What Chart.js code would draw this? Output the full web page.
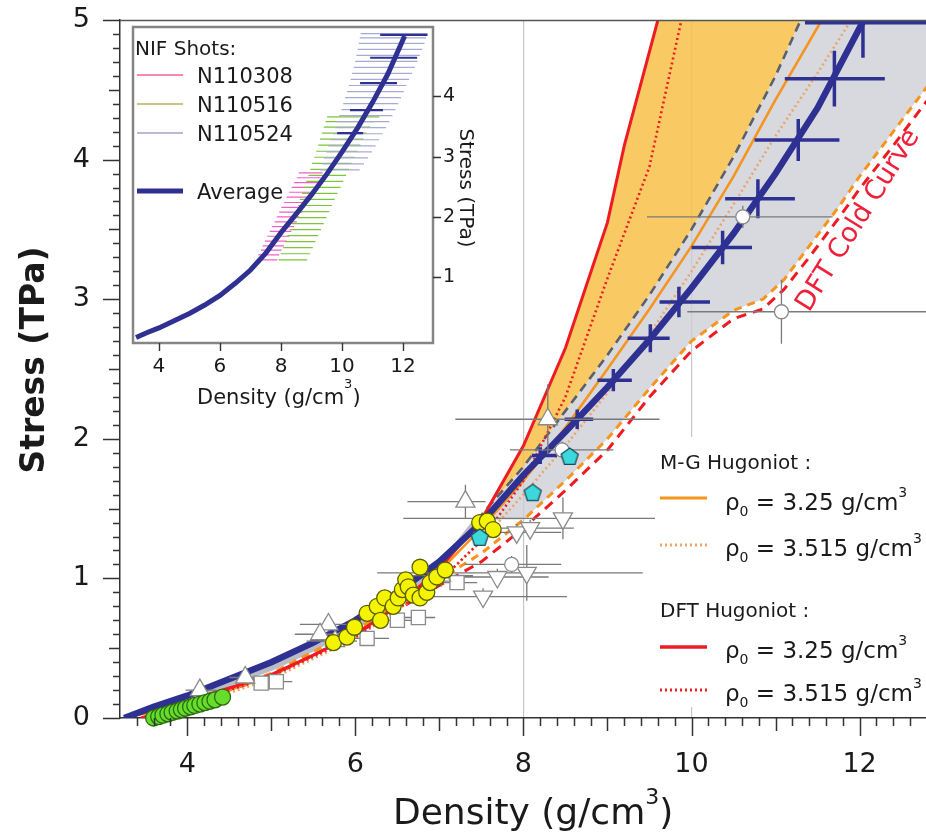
<!DOCTYPE html>
<html>
<head>
<meta charset="utf-8">
<title>Diamond ramp compression: stress vs density</title>
<script src="https://cdn.jsdelivr.net/npm/chart.js@4.4.1/dist/chart.umd.min.js"></script>
<style>
  html, body { margin: 0; padding: 0; background: #ffffff; }
  #stage { position: relative; width: 926px; height: 839px; overflow: hidden; }
  #mainChart { position: absolute; left: 0; top: 0; width: 926px; height: 839px; }
  #insetChart { position: absolute; left: 130px; top: 24px; width: 360px; height: 400px; }
</style>
</head>
<body>
<div id="stage">
  <canvas id="mainChart" width="926" height="839"></canvas>
  <canvas id="insetChart" width="360" height="400"></canvas>
</div>
<script>
// ---------------- tick labels ----------------
const xTickValues = [4, 6, 8, 10, 12];
const yTickValues = [0, 1, 2, 3, 4, 5];
const insetXTickValues = [4, 6, 8, 10, 12];
const insetYTickValues = [1, 2, 3, 4];

// ---------------- curves (density g/cm^3, stress TPa) ----------------
// NIF average stress-density path
const avgDensity = [3.25, 3.6, 4.0, 4.5, 5.0, 5.5, 6.0, 6.5, 7.0, 7.5, 8.0, 8.5, 9.0, 9.5, 10.0, 10.5, 11.0, 11.5, 12.05];
const avgStress  = [0.00, 0.08, 0.16, 0.28, 0.40, 0.54, 0.70, 0.90, 1.12, 1.40, 1.74, 2.05, 2.37, 2.71, 3.08, 3.47, 3.90, 4.37, 5.00];

// averaged points with density / stress uncertainty
const avgBarDensity = [8.20, 8.64, 9.07, 9.51, 9.85, 10.37, 10.79, 11.27, 11.70, 12.04];
const avgBarStress  = [1.88, 2.14, 2.42, 2.72, 2.98, 3.37, 3.72, 4.14, 4.58, 4.98];
const avgBarLo      = [8.10, 8.49, 8.88, 9.24, 9.62, 10.00, 10.40, 10.75, 11.11, 11.35];
const avgBarHi      = [8.40, 8.83, 9.29, 9.74, 10.22, 10.72, 11.23, 11.76, 12.30, 12.80];
const avgBarErr     = [0.06, 0.07, 0.08, 0.10, 0.11, 0.12, 0.14, 0.15, 0.20, 0.25];

// M-G Hugoniot, rho0 = 3.25 and 3.515
const mg325Density  = [3.25, 4.0, 5.0, 6.0, 7.0, 7.5, 8.0, 8.5, 9.0, 9.5, 10.0, 10.5, 11.0, 11.55];
const mg325Stress   = [0.00, 0.10, 0.30, 0.60, 1.05, 1.36, 1.70, 2.08, 2.50, 2.93, 3.38, 3.88, 4.43, 5.00];
const mg3515Density = [3.52, 4.0, 5.0, 6.0, 7.0, 7.5, 8.0, 8.5, 9.0, 9.5, 10.0, 10.5, 11.0, 11.5, 11.9];
const mg3515Stress  = [0.00, 0.08, 0.28, 0.57, 0.98, 1.27, 1.60, 1.95, 2.33, 2.75, 3.20, 3.68, 4.17, 4.62, 5.00];

// DFT Hugoniot, rho0 = 3.25 and 3.515
const dft325Density  = [3.25, 4.0, 5.0, 5.5, 6.0, 6.5, 7.0, 7.5, 8.0, 8.5, 9.0, 9.2, 9.4, 9.6];
const dft325Stress   = [0.00, 0.12, 0.31, 0.45, 0.60, 0.80, 1.07, 1.42, 1.95, 2.65, 3.55, 4.10, 4.55, 5.00];
const dft3515Density = [3.52, 4.0, 5.0, 6.0, 7.0, 7.5, 8.0, 8.5, 9.0, 9.5, 9.88];
const dft3515Stress  = [0.00, 0.10, 0.30, 0.58, 0.98, 1.27, 1.70, 2.30, 3.15, 3.95, 5.00];

// upper bound of the grey band (dashed)
const bandTopDensity = [7.45, 8.0, 8.5, 9.0, 9.5, 10.0, 10.5, 11.0, 11.3];
const bandTopStress  = [1.42, 1.80, 2.20, 2.60, 3.03, 3.50, 4.02, 4.60, 5.00];
// narrow lower part of the band
const bandLowDensity = [3.9, 4.5, 5.0, 5.5, 6.0, 6.5, 7.0, 7.45];
const bandLowStress  = [0.12, 0.25, 0.36, 0.50, 0.66, 0.86, 1.08, 1.42];

// DFT cold curve (red dashed) and companion orange dashed curve
const coldDensity = [3.45, 4.0, 5.0, 6.0, 7.0, 7.5, 8.0, 8.5, 9.0, 9.5, 10.0, 10.5, 10.85, 11.1, 11.4, 11.75, 12.0, 12.4, 12.8];
const coldStress  = [0.00, 0.10, 0.30, 0.60, 0.95, 1.12, 1.36, 1.63, 1.92, 2.30, 2.63, 2.86, 2.93, 3.07, 3.30, 3.58, 3.79, 4.10, 4.42];
const orangeDashDensity = [3.5, 4.0, 5.0, 6.0, 7.0, 7.5, 8.0, 8.5, 9.0, 9.5, 10.0, 10.5, 10.85, 11.1, 11.4, 11.75, 12.0, 12.4, 12.8, 13.5];
const orangeDashStress  = [0.00, 0.11, 0.32, 0.63, 0.99, 1.18, 1.42, 1.70, 2.00, 2.36, 2.70, 2.92, 3.00, 3.14, 3.38, 3.66, 3.88, 4.20, 4.52, 5.00];

// ---------------- other data sets ----------------
const upTriDensity = [8.29, 7.31, 7.02, 5.68, 5.58, 5.76, 4.69, 4.15];
const upTriStress  = [2.14, 1.55, 1.02, 0.67, 0.60, 0.55, 0.29, 0.20];
const upTriLo      = [7.19, 6.62, 6.55, 5.34, 5.28, 5.42, 4.50, 3.98];
const upTriHi      = [9.62, 7.55, 7.40, 5.92, 5.86, 6.02, 4.95, 4.35];
const upTriErr     = [0.25, 0.12, 0.08, 0.05, 0.05, 0.05, 0.03, 0.03];

const downTriDensity = [8.47, 8.04, 7.52, 7.69, 7.92, 8.08];
const downTriStress  = [1.43, 1.04, 0.87, 1.01, 1.33, 1.36];
const downTriLo      = [6.57, 6.26, 6.40, 7.10, 7.40, 7.55];
const downTriHi      = [9.62, 9.42, 8.52, 8.30, 8.45, 8.60];
const downTriErr     = [0.15, 0.20, 0.06, 0.06, 0.06, 0.06];

const openCircDensity = [10.61, 11.07, 8.46, 7.86];
const openCircStress  = [3.59, 2.91, 1.92, 1.10];
const openCircLo      = [9.47, 9.95, 7.84, 7.30];
const openCircHi      = [11.68, 12.95, 9.07, 8.45];
const openCircErr     = [0.08, 0.23, 0.06, 0.06];

const squareDensity = [4.88, 5.06, 6.14, 6.50, 6.75, 7.21];
const squareStress  = [0.25, 0.26, 0.57, 0.70, 0.72, 0.97];
const squareLo      = [4.72, 4.90, 5.90, 6.30, 6.55, 6.85];
const squareHi      = [5.05, 5.25, 6.40, 6.72, 6.95, 7.45];

const yellowDensity = [5.74, 5.90, 5.99, 6.14, 6.26, 6.30, 6.35, 6.45, 6.51, 6.56, 6.60, 6.63, 6.69, 6.77, 6.77, 6.85, 6.89, 6.97, 7.07, 7.48, 7.57, 7.64];
const yellowStress  = [0.54, 0.58, 0.65, 0.75, 0.80, 0.70, 0.86, 0.80, 0.86, 0.92, 0.99, 0.94, 0.88, 0.86, 1.08, 0.90, 0.97, 1.01, 1.06, 1.40, 1.41, 1.35];

const greenDensity = [3.60, 3.66, 3.71, 3.77, 3.82, 3.88, 3.93, 3.98, 4.04, 4.09, 4.15, 4.21, 4.27, 4.33, 4.42];
const greenStress  = [0.00, 0.01, 0.02, 0.03, 0.04, 0.05, 0.06, 0.07, 0.08, 0.09, 0.10, 0.11, 0.12, 0.13, 0.15];

const cyanDensity = [7.48, 8.11, 8.55];
const cyanStress  = [1.29, 1.61, 1.87];

// ---------------- NIF shots (inset) ----------------
const n308Stress = [1.29, 1.37, 1.45, 1.52, 1.60, 1.68, 1.76, 1.84, 1.92, 2.00, 2.08, 2.16, 2.24, 2.33, 2.41, 2.49, 2.57, 2.65, 2.73];
const n308Lo     = [7.21, 7.26, 7.34, 7.40, 7.47, 7.55, 7.63, 7.70, 7.79, 7.86, 7.94, 8.01, 8.10, 8.18, 8.27, 8.35, 8.43, 8.52, 8.58];
const n308Hi     = [7.88, 7.94, 8.02, 8.10, 8.19, 8.27, 8.34, 8.43, 8.52, 8.60, 8.69, 8.77, 8.86, 8.95, 9.04, 9.12, 9.21, 9.30, 9.36];

const n516Stress = [1.29, 1.39, 1.49, 1.59, 1.69, 1.79, 1.89, 1.99, 2.09, 2.19, 2.29, 2.39, 2.49, 2.59, 2.69, 2.79, 2.89, 2.99, 3.09, 3.19, 3.29, 3.39, 3.49, 3.58, 3.66];
const n516Lo     = [7.92, 7.99, 8.07, 8.14, 8.21, 8.28, 8.35, 8.42, 8.49, 8.56, 8.62, 8.69, 8.76, 8.83, 8.90, 8.96, 9.02, 9.09, 9.15, 9.22, 9.28, 9.34, 9.40, 9.46, 9.51];
const n516Hi     = [8.86, 8.95, 9.04, 9.13, 9.22, 9.31, 9.40, 9.49, 9.58, 9.67, 9.76, 9.85, 9.95, 10.04, 10.13, 10.22, 10.31, 10.41, 10.50, 10.60, 10.70, 10.80, 10.92, 11.05, 11.22];

const n524Stress = [2.78, 2.88, 2.98, 3.08, 3.18, 3.28, 3.38, 3.48, 3.58, 3.68, 3.78, 3.88, 3.98, 4.08, 4.18, 4.28, 4.38, 4.48, 4.58, 4.68, 4.78, 4.88, 4.97, 5.04];
const n524Lo     = [9.28, 9.35, 9.41, 9.48, 9.55, 9.62, 9.70, 9.77, 9.84, 9.91, 9.98, 10.04, 10.10, 10.16, 10.22, 10.28, 10.33, 10.38, 10.43, 10.47, 10.51, 10.55, 10.58, 10.61];
const n524Hi     = [10.58, 10.72, 10.85, 10.98, 11.10, 11.22, 11.33, 11.44, 11.55, 11.65, 11.75, 11.84, 11.93, 12.02, 12.11, 12.20, 12.29, 12.38, 12.47, 12.55, 12.63, 12.70, 12.76, 12.80];

const insetAvgBarStress = [5.02, 4.64, 4.22, 3.77, 3.39];
const insetAvgBarLo     = [11.25, 10.92, 10.59, 10.26, 9.84];
const insetAvgBarHi     = [12.80, 12.46, 11.80, 11.34, 10.69];

// ---------------- styling ----------------
const FONT = '"DejaVu Sans", "Liberation Sans", sans-serif';
const NAVY = '#2e3192';
const RED = '#ed1c24';
const ORANGE = '#f7941d';
const PEACH = '#eba56c';
const GREYDASH = '#5b606c';
const ERRGREY = '#7a7a7a';
const ORANGE_FILL = 'rgba(248,192,72,0.85)';
const GREY_FILL = 'rgba(204,206,214,0.78)';

Chart.defaults.font.family = FONT;

// ---------------- helpers building point tables ----------------
const pts = (xs, ys) => xs.map((x, i) => ({ x, y: ys[i] }));
const hSegs = (lo, hi, ys) => lo.flatMap((l, i) => [{ x: l, y: ys[i] }, { x: hi[i], y: ys[i] }, { x: null, y: null }]);
const vSegs = (xs, ys, err) => xs.flatMap((x, i) => [{ x, y: ys[i] - err[i] }, { x, y: ys[i] + err[i] }, { x: null, y: null }]);

// keep the plot frame exactly where the axes put it
const noEdgePadding = s => { s.paddingLeft = 0; s.paddingRight = 0; s.paddingTop = 0; s.paddingBottom = 0; };

function curve(label, data, color, width, dash, order, extra) {
  return Object.assign({
    label, data, borderColor: color, borderWidth: width, borderDash: dash || [],
    pointRadius: 0, fill: false, tension: 0, order, indexAxis: 'y', xAxisID: 'x', yAxisID: 'y'
  }, extra || {});
}
function markers(label, data, style, radius, bg, border, order, extra) {
  return Object.assign({
    label, data, showLine: false, pointStyle: style, pointRadius: radius,
    pointBackgroundColor: bg, pointBorderColor: border, pointBorderWidth: 1.3,
    fill: false, order, indexAxis: 'y', xAxisID: 'x', yAxisID: 'y'
  }, extra || {});
}

function pentagon(r, fill, stroke) {
  const c = document.createElement('canvas');
  const s = Math.ceil(2 * r + 4);
  c.width = s; c.height = s;
  const g = c.getContext('2d');
  g.beginPath();
  for (let k = 0; k < 5; k++) {
    const a = -Math.PI / 2 + k * 2 * Math.PI / 5;
    const px = s / 2 + r * Math.cos(a), py = s / 2 + r * Math.sin(a);
    if (k === 0) g.moveTo(px, py); else g.lineTo(px, py);
  }
  g.closePath();
  g.fillStyle = fill; g.fill();
  g.lineWidth = 1.3; g.strokeStyle = stroke; g.stroke();
  return c;
}

function richText(ctx, x, y, parts) {
  let cx = x;
  parts.forEach(p => {
    ctx.font = (p.bold ? 'bold ' : '') + p.size + 'px ' + FONT;
    ctx.fillText(p.text, cx, y + (p.dy || 0));
    cx += ctx.measureText(p.text).width;
  });
  return cx;
}

// ---------------- main chart ----------------
const mainSets = [
  markers('cyan', pts(cyanDensity, cyanStress), pentagon(9, '#3dd8dc', '#1d4a5a'), 9, '#3dd8dc', '#1d4a5a', 0),
  markers('green', pts(greenDensity, greenStress), 'circle', 8, '#66dd2a', '#2d6a12', 1, { clip: false }),
  markers('yellow', pts(yellowDensity, yellowStress), 'circle', 8, '#f4f400', '#5e5e00', 2),
  markers('open circles', pts(openCircDensity, openCircStress), 'circle', 7, '#ffffff', '#8a8a8a', 3),
  markers('up triangles', pts(upTriDensity, upTriStress), 'triangle', 11, '#ffffff', '#8a8a8a', 4),
  markers('down triangles', pts(downTriDensity, downTriStress), 'triangle', 11, '#ffffff', '#8a8a8a', 5, { pointRotation: 180 }),
  markers('squares', pts(squareDensity, squareStress), 'rect', 10, '#ffffff', '#8a8a8a', 6),
  curve('grey h-bars', hSegs(upTriLo.concat(downTriLo, openCircLo, squareLo), upTriHi.concat(downTriHi, openCircHi, squareHi), upTriStress.concat(downTriStress, openCircStress, squareStress)), ERRGREY, 1.3, null, 7),
  curve('grey v-bars', vSegs(upTriDensity.concat(downTriDensity, openCircDensity), upTriStress.concat(downTriStress, openCircStress), upTriErr.concat(downTriErr, openCircErr)), ERRGREY, 1.3, null, 7),
  curve('avg h-bars', hSegs(avgBarLo, avgBarHi, avgBarStress), NAVY, 3.5, null, 8),
  curve('avg v-bars', vSegs(avgBarDensity, avgBarStress, avgBarErr), NAVY, 3.5, null, 8),
  curve('average', pts(avgDensity, avgStress), NAVY, 6.5, null, 9),
  curve('DFT 3.25', pts(dft325Density, dft325Stress), RED, 3, null, 10),
  curve('DFT 3.515', pts(dft3515Density, dft3515Stress), RED, 2.6, [2, 3], 11),
  curve('band top', pts(bandTopDensity, bandTopStress), GREYDASH, 2.6, [9, 6], 12),
  curve('MG 3.25', pts(mg325Density, mg325Stress), ORANGE, 2.6, null, 13),
  curve('MG 3.515', pts(mg3515Density, mg3515Stress), PEACH, 2.6, [2, 3], 14),
  curve('cold', pts(coldDensity, coldStress), RED, 3, [10, 7], 15),
  curve('orange dashed', pts(orangeDashDensity, orangeDashStress), ORANGE, 3, [8, 6], 16),
  curve('band low', pts(bandLowDensity, bandLowStress), '#b9bcc6', 6, null, 17)
];
const idx = name => mainSets.findIndex(d => d.label === name);
// shaded areas between curves
Object.assign(mainSets[idx('DFT 3.25')], {
  fill: { target: idx('band top'), above: ORANGE_FILL, below: ORANGE_FILL }, backgroundColor: ORANGE_FILL
});
Object.assign(mainSets[idx('band top')], {
  fill: { target: idx('orange dashed'), above: GREY_FILL, below: GREY_FILL }, backgroundColor: GREY_FILL
});

const mainDecor = {
  id: 'mainDecor',
  afterDatasetsDraw(chart) {
    const ctx = chart.ctx;
    ctx.save();
    ctx.fillStyle = '#ffffff';
    ctx.fillRect(655, 437, 271, 270);
    ctx.restore();
  },
  afterDraw(chart) {
    const { ctx, chartArea, scales } = chart;
    const xs = scales.x, ys = scales.y;
    ctx.save();
    // top frame line
    ctx.strokeStyle = '#555'; ctx.lineWidth = 1.5;
    ctx.beginPath();
    ctx.moveTo(chartArea.left, chartArea.top + 0.5); ctx.lineTo(chartArea.right, chartArea.top + 0.5);
    ctx.stroke();
    // tick marks: major every 2, medium every 1, minor every 0.2
    ctx.strokeStyle = '#333'; ctx.lineWidth = 1.5;
    ctx.beginPath();
    for (let i = 17; i <= 63; i++) {
      const px = Math.round(xs.getPixelForValue(i / 5)) + 0.5;
      const len = i % 10 === 0 ? 18 : (i % 5 === 0 ? 13 : 8);
      ctx.moveTo(px, chartArea.bottom); ctx.lineTo(px, chartArea.bottom + len);
    }
    for (let j = 0; j <= 50; j++) {
      const py = Math.round(ys.getPixelForValue(j / 10)) + 0.5;
      const len = j % 10 === 0 ? 17 : (j % 5 === 0 ? 11 : 7);
      ctx.moveTo(chartArea.left, py); ctx.lineTo(chartArea.left - len, py);
    }
    ctx.stroke();

    // axis titles
    ctx.fillStyle = '#1a1a1a';
    ctx.textBaseline = 'alphabetic';
    ctx.textAlign = 'left';
    richText(ctx, 393, 824, [{ text: 'Density (g/cm', size: 36 }, { text: '3', size: 22, dy: -20 }, { text: ')', size: 36 }]);
    ctx.save();
    ctx.translate(44, 360);
    ctx.rotate(-Math.PI / 2);
    ctx.textAlign = 'center';
    ctx.font = 'bold 33px ' + FONT;
    ctx.fillText('Stress (TPa)', 0, 0);
    ctx.restore();

    // key
    const sample = (y, color, width, dash) => {
      ctx.beginPath();
      ctx.setLineDash(dash); ctx.strokeStyle = color; ctx.lineWidth = width;
      ctx.moveTo(660, y); ctx.lineTo(707, y); ctx.stroke();
      ctx.setLineDash([]);
    };
    ctx.fillStyle = '#1a1a1a';
    ctx.font = '20px ' + FONT;
    ctx.fillText('M-G Hugoniot :', 660, 469);
    ctx.fillText('DFT Hugoniot :', 660, 617);
    sample(498, ORANGE, 3, []);
    sample(545, PEACH, 3, [2, 3]);
    sample(647, RED, 3.5, []);
    sample(690, RED, 3, [2, 3]);
    const rho = v => [{ text: '\u03c1', size: 23 }, { text: '0', size: 14, dy: 6 }, { text: ' = ' + v + ' g/cm', size: 23 }, { text: '3', size: 14, dy: -13 }];
    richText(ctx, 725, 510, rho('3.25'));
    richText(ctx, 725, 556, rho('3.515'));
    richText(ctx, 725, 658, rho('3.25'));
    richText(ctx, 725, 701, rho('3.515'));

    // cold curve label
    ctx.save();
    ctx.translate(809, 313);
    ctx.rotate(-58 * Math.PI / 180);
    ctx.fillStyle = '#f0203a';
    ctx.font = '27px ' + FONT;
    ctx.fillText('DFT Cold Curve', 0, 0);
    ctx.restore();
    ctx.restore();
  }
};

new Chart(document.getElementById('mainChart'), {
  type: 'line',
  data: { datasets: mainSets },
  options: {
    responsive: false,
    animation: false,
    devicePixelRatio: 1,
    events: [],
    indexAxis: 'y',
    layout: { autoPadding: false, padding: { top: 20, right: 0, bottom: 0, left: 0 } },
    plugins: {
      legend: { display: false },
      tooltip: { enabled: false },
      filler: { drawTime: 'beforeDatasetsDraw', propagate: false }
    },
    scales: {
      x: {
        type: 'linear', position: 'bottom', min: 3.2, max: 12.79,
        afterFit: s => { s.height = 121; noEdgePadding(s); },
        afterBuildTicks: s => { s.ticks = xTickValues.map(v => ({ value: v })); },
        ticks: { padding: 31, color: '#1a1a1a', font: { size: 27 }, maxRotation: 0, autoSkip: false, callback: v => String(v) },
        grid: {
          drawTicks: false, lineWidth: 1.2,
          color: c => (c.tick && (c.tick.value === 8 || c.tick.value === 10)) ? '#c6c6c6' : 'rgba(0,0,0,0)'
        },
        border: { color: '#333', width: 1.5 }
      },
      y: {
        type: 'linear', position: 'left', min: 0, max: 5,
        afterFit: s => { s.width = 120; noEdgePadding(s); },
        afterBuildTicks: s => { s.ticks = yTickValues.map(v => ({ value: v })); },
        ticks: { padding: 30, color: '#1a1a1a', font: { size: 27 }, autoSkip: false, callback: v => String(v) },
        grid: { display: false, drawTicks: false },
        border: { color: '#333', width: 1.5 }
      }
    }
  },
  plugins: [mainDecor]
});

// ---------------- inset chart ----------------
const insetDecor = {
  id: 'insetDecor',
  beforeDraw(chart) {
    const { ctx, chartArea: a } = chart;
    ctx.save();
    ctx.fillStyle = '#ffffff';
    ctx.fillRect(a.left, a.top, a.right - a.left, a.bottom - a.top);
    ctx.restore();
  },
  afterDraw(chart) {
    const { ctx, chartArea: a, scales } = chart;
    ctx.save();
    ctx.strokeStyle = '#858585'; ctx.lineWidth = 2.5;
    ctx.strokeRect(a.left, a.top, a.right - a.left, a.bottom - a.top);
    ctx.strokeStyle = '#333'; ctx.lineWidth = 1.4;
    ctx.beginPath();
    insetXTickValues.forEach(v => {
      const px = Math.round(scales.x.getPixelForValue(v)) + 0.5;
      ctx.moveTo(px, a.bottom); ctx.lineTo(px, a.bottom + 8);
    });
    insetYTickValues.forEach(v => {
      const py = Math.round(scales.y.getPixelForValue(v)) + 0.5;
      ctx.moveTo(a.right, py); ctx.lineTo(a.right + 8, py);
    });
    ctx.stroke();

    ctx.fillStyle = '#1a1a1a';
    ctx.textAlign = 'left';
    ctx.textBaseline = 'alphabetic';
    richText(ctx, 67, 380, [{ text: 'Density (g/cm', size: 21 }, { text: '3', size: 13, dy: -16 }, { text: ')', size: 21 }]);
    ctx.save();
    ctx.translate(330, 164);
    ctx.rotate(Math.PI / 2);
    ctx.textAlign = 'center';
    ctx.font = '20px ' + FONT;
    ctx.fillText('Stress (TPa)', 0, 0);
    ctx.restore();

    // key
    ctx.font = '20px ' + FONT;
    ctx.fillText('NIF Shots:', 5, 31);
    const entry = (y, color, width, text) => {
      ctx.beginPath(); ctx.strokeStyle = color; ctx.lineWidth = width;
      ctx.moveTo(7, y); ctx.lineTo(53, y); ctx.stroke();
      ctx.font = '21px ' + FONT;
      ctx.fillText(text, 67, y + 8);
    };
    entry(51, '#f0639a', 1.4, 'N110308');
    entry(80, '#b4b25a', 1.4, 'N110516');
    entry(109, '#a2a4c6', 1.4, 'N110524');
    entry(167, NAVY, 5, 'Average');
    ctx.restore();
  }
};

const insetLine = (label, data, color, width, order) => ({
  label, data, borderColor: color, borderWidth: width, pointRadius: 0, fill: false, tension: 0, order, indexAxis: 'y'
});

new Chart(document.getElementById('insetChart'), {
  type: 'line',
  data: {
    datasets: [
      insetLine('Average', pts(avgDensity, avgStress), NAVY, 5, 0),
      insetLine('Average bars', hSegs(insetAvgBarLo, insetAvgBarHi, insetAvgBarStress), NAVY, 2.2, 1),
      insetLine('N110524', hSegs(n524Lo, n524Hi, n524Stress), '#a7a9d6', 1.2, 2),
      insetLine('N110516', hSegs(n516Lo, n516Hi, n516Stress), '#7cc43a', 1.2, 3),
      insetLine('N110308', hSegs(n308Lo, n308Hi, n308Stress), '#f25fc4', 1.2, 4)
    ]
  },
  options: {
    responsive: false,
    animation: false,
    devicePixelRatio: 1,
    events: [],
    indexAxis: 'y',
    layout: { autoPadding: false, padding: { top: 3, left: 3, right: 0, bottom: 0 } },
    plugins: { legend: { display: false }, tooltip: { enabled: false } },
    scales: {
      x: {
        type: 'linear', position: 'bottom', min: 3.15, max: 12.98,
        afterFit: s => { s.height = 81; noEdgePadding(s); },
        afterBuildTicks: s => { s.ticks = insetXTickValues.map(v => ({ value: v })); },
        ticks: { padding: 12, color: '#1a1a1a', font: { size: 20 }, maxRotation: 0, autoSkip: false, callback: v => String(v) },
        grid: { display: false, drawTicks: false },
        border: { display: false }
      },
      y: {
        type: 'linear', position: 'right', min: -0.09, max: 5.15,
        afterFit: s => { s.width = 57; noEdgePadding(s); },
        afterBuildTicks: s => { s.ticks = insetYTickValues.map(v => ({ value: v })); },
        ticks: { padding: 10, color: '#1a1a1a', font: { size: 19 }, autoSkip: false, callback: v => String(v) },
        grid: { display: false, drawTicks: false },
        border: { display: false }
      }
    }
  },
  plugins: [insetDecor]
});
</script>
</body>
</html>
